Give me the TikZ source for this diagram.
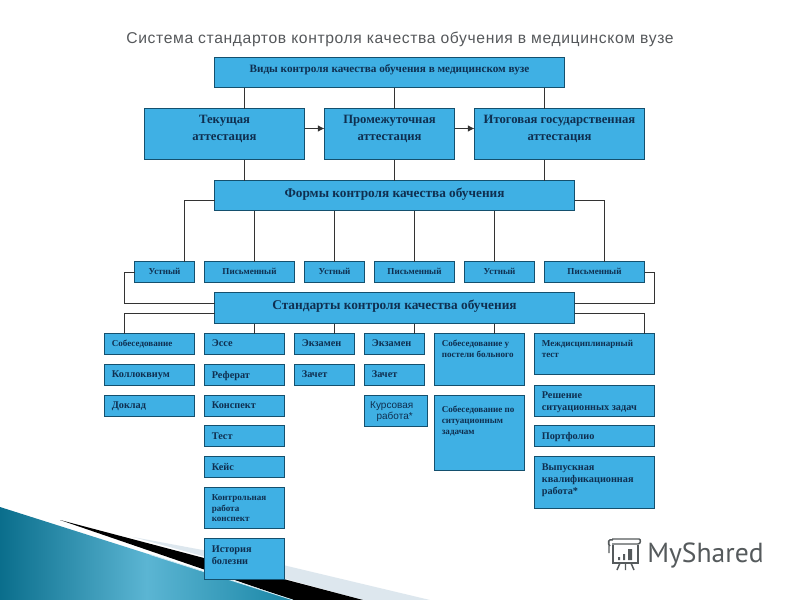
\documentclass[tikz,border=0pt]{standalone}
\usepackage{fontspec}
\setmainfont{Liberation Serif}
\newfontfamily\titlefont[LetterSpace=4]{Liberation Sans}
\newfontfamily\logofont{PT Sans}
\newfontfamily\kursfont{Liberation Sans}
\usetikzlibrary{arrows.meta}
\definecolor{boxfill}{HTML}{3FB0E4}
\definecolor{boxline}{HTML}{14506E}
\definecolor{boxtext}{HTML}{0F2F50}
\definecolor{wedgeA}{HTML}{0A6E8C}
\definecolor{wedgeB}{HTML}{5BB5D3}
\definecolor{wedgeC}{HTML}{1A86A6}
\definecolor{bandc}{HTML}{DDE7EE}
\definecolor{linec}{HTML}{333333}
\definecolor{titlec}{HTML}{55585B}
\definecolor{logoc}{HTML}{555A5C}
\newcommand{\bx}[8]{% name,x0,y0,x1,y1,fontsize,align,text
  \pgfmathsetlengthmacro{\bxw}{(#4-#2)*0.75pt}%
  \pgfmathsetlengthmacro{\bxh}{(#5-#3)*0.75pt}%
  \node[cbox,anchor=north west,minimum width=\bxw,minimum height=\bxh] (#1) at (#2,#3)
  {\parbox[t][\bxh][t]{\bxw}{\fontsize{#6}{#6}\selectfont\bfseries\color{boxtext}#7#8}};}
\newcommand{\LL}{\raggedright\leftskip=5.5pt }
\tikzset{
  cbox/.style={draw=boxline,fill=boxfill,line width=0.8pt,inner sep=0pt,outer sep=0pt,rectangle},
  conn/.style={draw=linec,line width=0.7pt},
  arr/.style={conn,-{Latex[length=5pt,width=5pt]}}
}
\begin{document}
\begin{tikzpicture}[x=0.75pt,y=-0.75pt]
\useasboundingbox (0,0) rectangle (800,600);
\fill[white] (0,0) rectangle (800,600);
% wedge
\fill[bandc] (133,537) -- (283,565) -- (430,600) -- (363,600) -- cycle;
\fill[black] (60,520) -- (363,600) -- (293,600) -- cycle;
\shade[left color=wedgeA,right color=wedgeC,middle color=wedgeB] (0,507) -- (293,600) -- (0,600) -- cycle;
\draw[white!70!wedgeB,line width=0.6pt] (150,554.5) -- (293,600);
% title
\node[anchor=center,text=titlec,inner sep=0pt] (title) at (400,39) {\titlefont\fontsize{11.75}{12}\selectfont Система стандартов контроля качества обучения в медицинском вузе};
% boxes
\bx{vidy}{214.5}{57.5}{564.5}{87.5}{8.4}{\centering\vspace{5.6pt}}{Виды контроля качества обучения в медицинском вузе}
\bx{tek}{144.5}{108.5}{304.5}{159.5}{9.5}{\centering\vspace{5pt}}{Текущая\\[3pt]аттестация}
\bx{prom}{324.5}{108.5}{454.5}{159.5}{9.5}{\centering\vspace{5pt}}{Промежуточная\\[3pt]аттестация}
\bx{itog}{474.5}{108.5}{644.5}{159.5}{9.5}{\centering\vspace{5pt}}{Итоговая государственная\\[3pt]аттестация}
\bx{formy}{214.5}{180.5}{574.5}{210.5}{9.95}{\centering\vspace{5.4pt}}{Формы контроля качества обучения}
\bx{u1}{134.5}{261.5}{194.5}{282.5}{6.8}{\centering\vspace{5pt}}{Устный}
\bx{p1}{204.5}{261.5}{294.5}{282.5}{6.8}{\centering\vspace{5pt}}{Письменный}
\bx{u2}{304.5}{261.5}{364.5}{282.5}{6.8}{\centering\vspace{5pt}}{Устный}
\bx{p2}{374.5}{261.5}{454.5}{282.5}{6.8}{\centering\vspace{5pt}}{Письменный}
\bx{u3}{464.5}{261.5}{534.5}{282.5}{6.8}{\centering\vspace{5pt}}{Устный}
\bx{p3}{544.5}{261.5}{644.5}{282.5}{6.8}{\centering\vspace{5pt}}{Письменный}
\bx{std}{214.5}{292.5}{574.5}{323.5}{10}{\centering\vspace{5.4pt}}{Стандарты контроля качества обучения}
% column 1
\bx{a1}{104.5}{333.5}{194.5}{354.5}{6.8}{\LL\vspace{4.7pt}}{Собеседование}
\bx{a2}{104.5}{364.5}{194.5}{385.5}{7.7}{\LL\vspace{5pt}}{Коллоквиум}
\bx{a3}{104.5}{395.5}{194.5}{416.5}{7.7}{\LL\vspace{5pt}}{Доклад}
% column 2
\bx{b1}{204.5}{333.5}{284.5}{354.5}{7.7}{\LL\vspace{5pt}}{Эссе}
\bx{b2}{204.5}{364.5}{284.5}{385.5}{7.7}{\LL\vspace{5pt}}{Реферат}
\bx{b3}{204.5}{395.5}{284.5}{416.5}{7.7}{\LL\vspace{5pt}}{Конспект}
\bx{b4}{204.5}{425.5}{284.5}{446.5}{7.7}{\LL\vspace{5.3pt}}{Тест}
\bx{b5}{204.5}{456.5}{284.5}{477.5}{7.7}{\LL\vspace{5.3pt}}{Кейс}
\bx{b6}{204.5}{487.5}{284.5}{528.5}{6.8}{\LL\baselineskip=8.2pt\vspace{5pt}}{Контрольная\\работа\\конспект}
\bx{b7}{204.5}{538.5}{284.5}{579.5}{7.7}{\LL\baselineskip=9pt\vspace{5.5pt}}{История\\болезни}
% column 3
\bx{c1}{294.5}{333.5}{354.5}{354.5}{7.7}{\LL\vspace{5pt}}{Экзамен}
\bx{c2}{294.5}{364.5}{354.5}{385.5}{7.7}{\LL\vspace{5pt}}{Зачет}
% column 4
\bx{d1}{364.5}{333.5}{424.5}{354.5}{7.7}{\LL\vspace{5pt}}{Экзамен}
\bx{d2}{364.5}{364.5}{424.5}{385.5}{7.7}{\LL\vspace{5pt}}{Зачет}
\node[cbox,anchor=north west,minimum width=47.25pt,minimum height=23.25pt] (d3) at (364.5,395.5)
  {\parbox[t][23.25pt][t]{47.25pt}{\leftskip=0pt plus 1fil\rightskip=2pt plus 1fil\parfillskip=0pt\vspace{4.3pt}\fontsize{7.5}{8.4}\selectfont\kursfont\color{boxtext}Курсовая\\работа*}};
% column 5
\bx{e1}{434.5}{333.5}{524.5}{385.5}{6.8}{\LL\baselineskip=8.5pt\vspace{5pt}}{Собеседование у\\постели больного}
\bx{e2}{434.5}{395.5}{524.5}{470.5}{6.8}{\LL\baselineskip=8.3pt\vspace{8pt}}{Собеседование по\\ситуационным\\задачам}
% column 6
\bx{f1}{534.5}{333.5}{654.5}{374.5}{6.8}{\LL\baselineskip=8.5pt\vspace{5pt}}{Междисциплинарный\\тест}
\bx{f2}{534.5}{385.5}{654.5}{416.5}{7.7}{\LL\baselineskip=9pt\vspace{5pt}}{Решение\\ситуационных задач}
\bx{f3}{534.5}{425.5}{654.5}{446.5}{7.7}{\LL\vspace{5.3pt}}{Портфолио}
\bx{f4}{534.5}{456.5}{654.5}{508.5}{7.7}{\LL\baselineskip=8.8pt\vspace{5.8pt}}{Выпускная\\квалификационная\\работа*}
% connectors
\draw[conn] (vidy.south west -| 244.5,0) -- (tek.north west -| 244.5,0);
\draw[conn] (vidy.south west -| 394.5,0) -- (prom.north west -| 394.5,0);
\draw[conn] (vidy.south west -| 544.5,0) -- (itog.north west -| 544.5,0);
\draw[conn] (tek.south west -| 244.5,0) -- (formy.north west -| 244.5,0);
\draw[conn] (prom.south west -| 394.5,0) -- (formy.north west -| 394.5,0);
\draw[conn] (itog.south west -| 544.5,0) -- (formy.north west -| 544.5,0);
\draw[arr] (tek.east |- 0,128.5) -- (prom.west |- 0,128.5);
\draw[arr] (prom.east |- 0,128.5) -- (itog.west |- 0,128.5);
\draw[conn] (formy.west |- 0,200.5) -- (184.5,200.5) -- (u1.north -| 184.5,0);
\draw[conn] (formy.south -| 254.5,0) -- (p1.north -| 254.5,0);
\draw[conn] (formy.south -| u2.north) -- (u2.north);
\draw[conn] (formy.south -| p2.north) -- (p2.north);
\draw[conn] (formy.south -| 494.5,0) -- (u3.north -| 494.5,0);
\draw[conn] (formy.east |- 0,200.5) -- (604.5,200.5) -- (p3.north -| 604.5,0);
\draw[conn] (u1.west |- 0,272.5) -- (124.5,272.5) -- (124.5,303.5) -- (std.west |- 0,303.5);
\draw[conn] (p3.east |- 0,272.5) -- (654.5,272.5) -- (654.5,303.5) -- (std.east |- 0,303.5);
\draw[conn] (std.west |- 0,313.5) -- (124.5,313.5) -- (a1.north -| 124.5,0);
\draw[conn] (std.east |- 0,313.5) -- (644.5,313.5) -- (f1.north -| 644.5,0);
\draw[conn] (std.south -| 254.5,0) -- (b1.north -| 254.5,0);
\draw[conn] (std.south -| 334.5,0) -- (c1.north -| 334.5,0);
\draw[conn] (std.south -| 414.5,0) -- (d1.north -| 414.5,0);
\draw[conn] (std.south -| 494.5,0) -- (e1.north -| 494.5,0);
% logo
\begin{scope}[draw=logoc,line width=1.1pt]
\draw (613,545) -- (613,563) -- (638,563) -- (638,545);
\draw (613,540) .. controls (608,538) and (607,544) .. (610,546) (612,539) -- (639,539) .. controls (641,539) and (641,544) .. (638,544) -- (612,544) (609,540) -- (609,553);
\draw (620,563) -- (617,570) (625.5,563) -- (625.5,570) (631,563) -- (634,570);
\fill[logoc] (618,557) rectangle (620,560) (623,554) rectangle (625,560) (628,549) rectangle (632,560);
\end{scope}
\node[anchor=west,text=logoc,inner sep=0pt] (logo) at (647,555) {\logofont\fontsize{20.7}{22}\selectfont MyShared};
\end{tikzpicture}
\end{document}
